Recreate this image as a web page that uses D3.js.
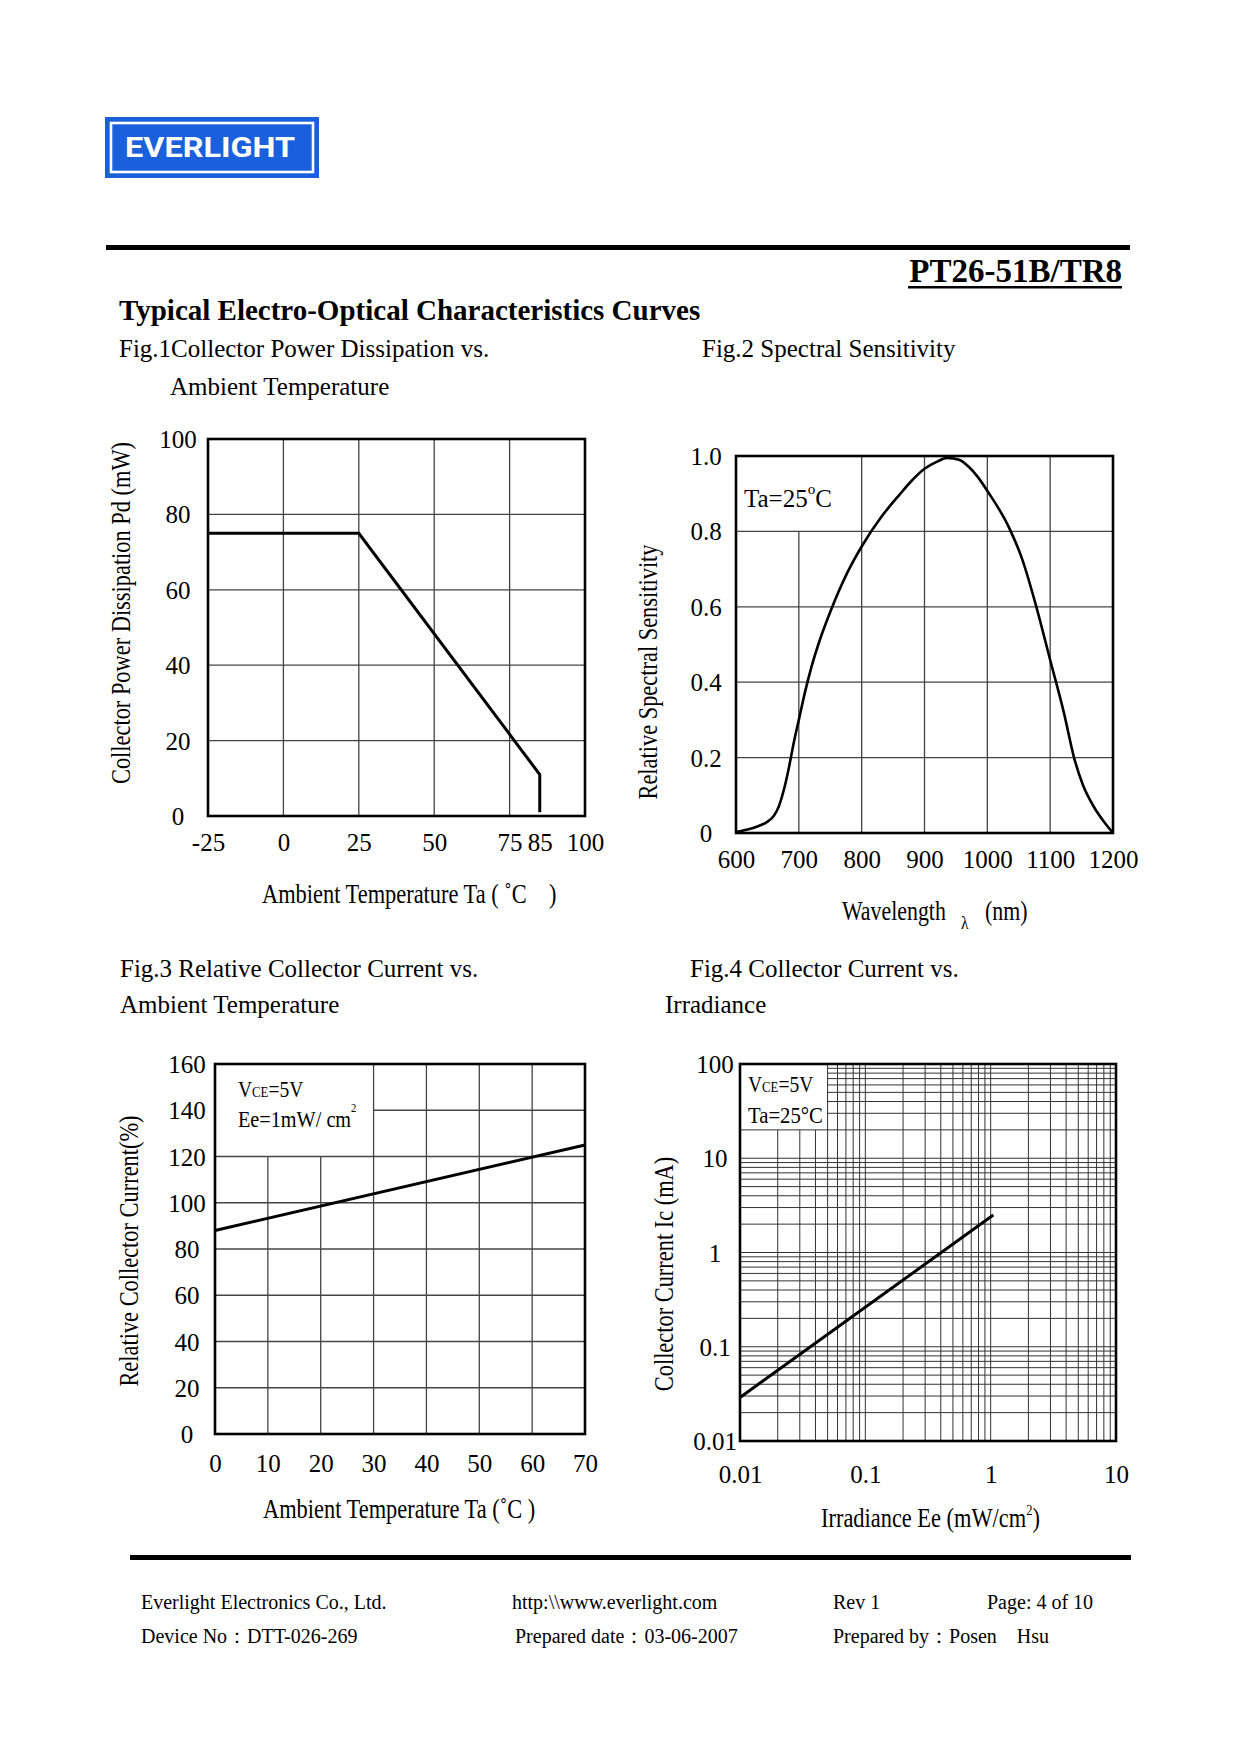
<!DOCTYPE html>
<html><head><meta charset="utf-8">
<script src="https://cdn.jsdelivr.net/npm/d3@7"></script>
<style>
body{margin:0;background:#fff}
svg{display:block}
text{font-family:"Liberation Serif","Times New Roman",serif;fill:#000}
</style></head><body>
<svg id="page" width="1240" height="1754"></svg>
<script>
// ---------- DATA ----------
const fig1Temp = [-25, 25, 85, 85];
const fig1Pd = [75, 75, 11, 1];
const fig1XTicks = [-25, 0, 25, 50, 75, 85, 100];
const fig1XGrid = [-25, 0, 25, 50, 75, 100];
const fig1YTicks = [0, 20, 40, 60, 80, 100];

const fig2Wavelength = [600, 620, 635, 650, 660, 668, 677, 685, 692, 700, 710, 720, 733, 752, 777, 800, 832, 860, 880, 900, 920, 936, 955, 970, 985, 1001, 1034, 1056, 1078, 1100, 1122, 1138, 1152, 1169, 1185, 1200];
const fig2Sensitivity = [0.003, 0.01, 0.018, 0.03, 0.045, 0.07, 0.12, 0.18, 0.24, 0.30, 0.375, 0.44, 0.51, 0.595, 0.69, 0.76, 0.84, 0.897, 0.935, 0.966, 0.985, 0.995, 0.99, 0.972, 0.944, 0.905, 0.812, 0.724, 0.60, 0.459, 0.318, 0.2, 0.128, 0.071, 0.031, 0.0];
const fig2XTicks = [600, 700, 800, 900, 1000, 1100, 1200];
const fig2YTicks = [0, 0.2, 0.4, 0.6, 0.8, 1.0];
const fig2YLabels = ["0", "0.2", "0.4", "0.6", "0.8", "1.0"];

const fig3Temp = [0, 70];
const fig3Current = [88, 125];
const fig3XTicks = [0, 10, 20, 30, 40, 50, 60, 70];
const fig3YTicks = [0, 20, 40, 60, 80, 100, 120, 140, 160];

const fig4Irradiance = [0.01, 1.05];
const fig4Ic = [0.029, 2.5];
const fig4XTicks = [0.01, 0.1, 1, 10];
const fig4XLabels = ["0.01", "0.1", "1", "10"];
const fig4YTicks = [0.01, 0.1, 1, 10, 100];
const fig4YLabels = ["0.01", "0.1", "1", "10", "100"];

// ---------- HELPERS ----------
const SERIF = '"Liberation Serif","Times New Roman",serif';
const svg = d3.select('#page');

function txt(x, y, s, o = {}) {
  const t = svg.append('text').attr('x', x).attr('y', y).text(s)
    .attr('font-size', o.size || 25)
    .attr('text-anchor', o.anchor || 'start')
    .style('white-space', 'pre');
  if (o.bold) t.attr('font-weight', 'bold');
  return t;
}
// condensed text, optionally rotated; parts = [{t, size, dy}]
function ctext(x, y, parts, o = {}) {
  const g = svg.append('g').attr('transform',
    `translate(${x},${y}) rotate(${o.rot || 0}) scale(${o.sx || 0.83},1)`);
  const t = g.append('text').attr('x', 0).attr('y', 0)
    .attr('font-size', o.size || 27)
    .attr('text-anchor', o.anchor || 'start')
    .style('white-space', 'pre');
  parts.forEach(p => {
    const ts = t.append('tspan').text(p.t);
    if (p.size) ts.attr('font-size', p.size);
    if (p.dy) ts.attr('dy', p.dy);
  });
  return t;
}
function grid(g, x, y, xs, ys, mask, stroke, sw) {
  const [ya, yb] = y.domain(), [xa, xb] = x.domain();
  xs.forEach(v => {
    let top = yb;
    if (mask && v > mask.x0 && v < mask.x1) top = mask.y0;
    g.append('line').attr('x1', x(v)).attr('x2', x(v)).attr('y1', y(ya)).attr('y2', y(top))
      .attr('stroke', stroke).attr('stroke-width', sw);
  });
  ys.forEach(h => {
    let left = xa;
    if (mask && h > mask.y0 && h < mask.y1) left = mask.x1;
    g.append('line').attr('x1', x(left)).attr('x2', x(xb)).attr('y1', y(h)).attr('y2', y(h))
      .attr('stroke', stroke).attr('stroke-width', sw);
  });
}
function axes(g, x, y, o) {
  const b = y.range()[0], l = x.range()[0];
  const ax = g.append('g').attr('transform', `translate(0,${b})`)
    .call(d3.axisBottom(x).tickValues(o.xt).tickFormat((d, i) => o.xl ? o.xl[i] : d)
      .tickSize(0).tickPadding(o.xp));
  const ay = g.append('g').attr('transform', `translate(${l},0)`)
    .call(d3.axisLeft(y).tickValues(o.yt).tickFormat((d, i) => o.yl ? o.yl[i] : d)
      .tickSize(0).tickPadding(o.yp));
  [ax, ay].forEach(a => {
    a.select('.domain').remove();
    a.attr('font-family', SERIF).attr('font-size', 25);
    a.selectAll('text').attr('fill', '#000');
  });
  ay.attr('text-anchor', 'middle');
  ay.selectAll('text').attr('dy', '0.34em');
}
function frame(g, x, y) {
  const [x0, x1] = x.range(), [y0, y1] = y.range();
  g.append('rect').attr('x', x0).attr('y', y1).attr('width', x1 - x0).attr('height', y0 - y1)
    .attr('fill', 'none').attr('stroke', '#000').attr('stroke-width', 2.6);
}

// ---------- HEADER ----------
svg.append('rect').attr('x', 105).attr('y', 117).attr('width', 214).attr('height', 61).attr('fill', '#1a5fdc');
svg.append('rect').attr('x', 111).attr('y', 123).attr('width', 202).attr('height', 49)
  .attr('fill', 'none').attr('stroke', '#fff').attr('stroke-width', 2.6);
svg.append('text').attr('x', 125).attr('y', 157).text('EVERLIGHT')
  .style('font-family', 'Roboto, "DejaVu Sans", sans-serif').style('font-weight', '700')
  .attr('font-size', 28).style('fill', '#fff').attr('textLength', 170).attr('lengthAdjust', 'spacingAndGlyphs');

svg.append('rect').attr('x', 106).attr('y', 245).attr('width', 1024).attr('height', 5).attr('fill', '#000');
txt(1122, 282, 'PT26-51B/TR8', { size: 33, bold: true, anchor: 'end' });
svg.append('rect').attr('x', 908).attr('y', 286).attr('width', 214).attr('height', 2.5).attr('fill', '#000');

txt(119, 320, 'Typical Electro-Optical Characteristics Curves', { size: 29, bold: true });
txt(119, 357, 'Fig.1Collector Power Dissipation vs.');
txt(170, 395, 'Ambient Temperature');
txt(702, 357, 'Fig.2 Spectral Sensitivity');
txt(120, 977, 'Fig.3 Relative Collector Current vs.');
txt(120, 1013, 'Ambient Temperature');
txt(690, 977, 'Fig.4 Collector Current vs.');
txt(665, 1013, 'Irradiance');

// ---------- FIG 1 ----------
{
  const g = svg.append('g');
  const x = d3.scaleLinear().domain([-25, 100]).range([208, 585]);
  const y = d3.scaleLinear().domain([0, 100]).range([816, 439]);
  grid(g, x, y, fig1XGrid, fig1YTicks, null, '#444', 1.3);
  frame(g, x, y);
  g.append('path').datum(fig1Temp.map((t, i) => [t, fig1Pd[i]]))
    .attr('d', d3.line().x(d => x(d[0])).y(d => y(d[1])))
    .attr('fill', 'none').attr('stroke', '#000').attr('stroke-width', 3).attr('stroke-linejoin', 'miter');
  axes(g, x, y, { xt: fig1XTicks, yt: fig1YTicks, xp: 17, yp: 30 });
  ctext(262, 903, [{ t: 'Ambient Temperature Ta ( ˚C    )' }]);
  ctext(130, 613, [{ t: 'Collector Power Dissipation Pd (mW)' }], { rot: -90, anchor: 'middle' });
}

// ---------- FIG 2 ----------
{
  const g = svg.append('g');
  const x = d3.scaleLinear().domain([600, 1200]).range([736, 1113]);
  const y = d3.scaleLinear().domain([0, 1]).range([833, 456]);
  grid(g, x, y, fig2XTicks, fig2YTicks, { x0: 600, x1: 701, y0: 0.8, y1: 1.0 }, '#444', 1.3);
  frame(g, x, y);
  g.append('path').datum(fig2Wavelength.map((w, i) => [w, fig2Sensitivity[i]]))
    .attr('d', d3.line().curve(d3.curveMonotoneX).x(d => x(d[0])).y(d => y(d[1])))
    .attr('fill', 'none').attr('stroke', '#000').attr('stroke-width', 2.6);
  axes(g, x, y, { xt: fig2XTicks, yt: fig2YTicks, yl: fig2YLabels, xp: 17, yp: 30 });
  const t = txt(744, 507, 'Ta=25');
  t.append('tspan').text('o').attr('font-size', 15).attr('dy', -13);
  t.append('tspan').text('C').attr('dy', 13);
  ctext(842, 920, [{ t: 'Wavelength' }], { sx: 0.81 });
  ctext(961, 929, [{ t: 'λ' }], { sx: 0.81, size: 19 });
  ctext(985, 920, [{ t: '(nm)' }], { sx: 0.81 });
  ctext(657, 672, [{ t: 'Relative Spectral Sensitivity' }], { rot: -90, anchor: 'middle' });
}

// ---------- FIG 3 ----------
{
  const g = svg.append('g');
  const x = d3.scaleLinear().domain([0, 70]).range([215, 585]);
  const y = d3.scaleLinear().domain([0, 160]).range([1434, 1064]);
  grid(g, x, y, fig3XTicks, fig3YTicks, { x0: 0, x1: 30, y0: 120, y1: 160 }, '#444', 1.3);
  frame(g, x, y);
  g.append('path').datum(fig3Temp.map((t, i) => [t, fig3Current[i]]))
    .attr('d', d3.line().x(d => x(d[0])).y(d => y(d[1])))
    .attr('fill', 'none').attr('stroke', '#000').attr('stroke-width', 3);
  axes(g, x, y, { xt: fig3XTicks, yt: fig3YTicks, xp: 20, yp: 28 });
  ctext(238, 1097, [{ t: 'V' }, { t: 'CE', size: 15 }, { t: '=5V' }], { size: 23, sx: 0.85 });
  ctext(238, 1127, [{ t: 'Ee=1mW/ cm' }, { t: '2', size: 12, dy: -15 }], { size: 23, sx: 0.88 });
  ctext(263, 1518, [{ t: 'Ambient Temperature Ta (˚C )' }]);
  ctext(138, 1251, [{ t: 'Relative Collector Current(%)' }], { rot: -90, anchor: 'middle' });
}

// ---------- FIG 4 ----------
{
  const g = svg.append('g');
  const x = d3.scaleLog().domain([0.01, 10]).range([740, 1116]);
  const y = d3.scaleLog().domain([0.01, 100]).range([1441, 1064]);
  grid(g, x, y, x.ticks(), y.ticks(), { x0: 0.01, x1: 0.05, y0: 20, y1: 100 }, '#333', 1);
  frame(g, x, y);
  g.append('path').datum(fig4Irradiance.map((e, i) => [e, fig4Ic[i]]))
    .attr('d', d3.line().x(d => x(d[0])).y(d => y(d[1])))
    .attr('fill', 'none').attr('stroke', '#000').attr('stroke-width', 3);
  axes(g, x, y, { xt: fig4XTicks, xl: fig4XLabels, yt: fig4YTicks, yl: fig4YLabels, xp: 24, yp: 25 });
  ctext(748, 1092, [{ t: 'V' }, { t: 'CE', size: 15 }, { t: '=5V' }], { size: 23, sx: 0.85 });
  ctext(748, 1123, [{ t: 'Ta=25°C' }], { size: 23, sx: 0.9 });
  ctext(821, 1527, [{ t: 'Irradiance Ee (mW/cm' }, { t: '2', size: 15, dy: -12 }, { t: ')', dy: 12 }]);
  ctext(673, 1274, [{ t: 'Collector Current Ic (mA)' }], { rot: -90, anchor: 'middle' });
}

// ---------- FOOTER ----------
svg.append('rect').attr('x', 130).attr('y', 1555).attr('width', 1001).attr('height', 5).attr('fill', '#000');
txt(141, 1609, 'Everlight Electronics Co., Ltd.', { size: 20 });
txt(512, 1609, 'http:\\\\www.everlight.com', { size: 20 });
txt(833, 1609, 'Rev 1', { size: 20 });
txt(987, 1609, 'Page: 4 of 10', { size: 20 });
txt(141, 1643, 'Device No：DTT-026-269', { size: 20 });
txt(515, 1643, 'Prepared date：03-06-2007', { size: 20 });
txt(833, 1643, 'Prepared by：Posen    Hsu', { size: 20 });
</script>
</body></html>
